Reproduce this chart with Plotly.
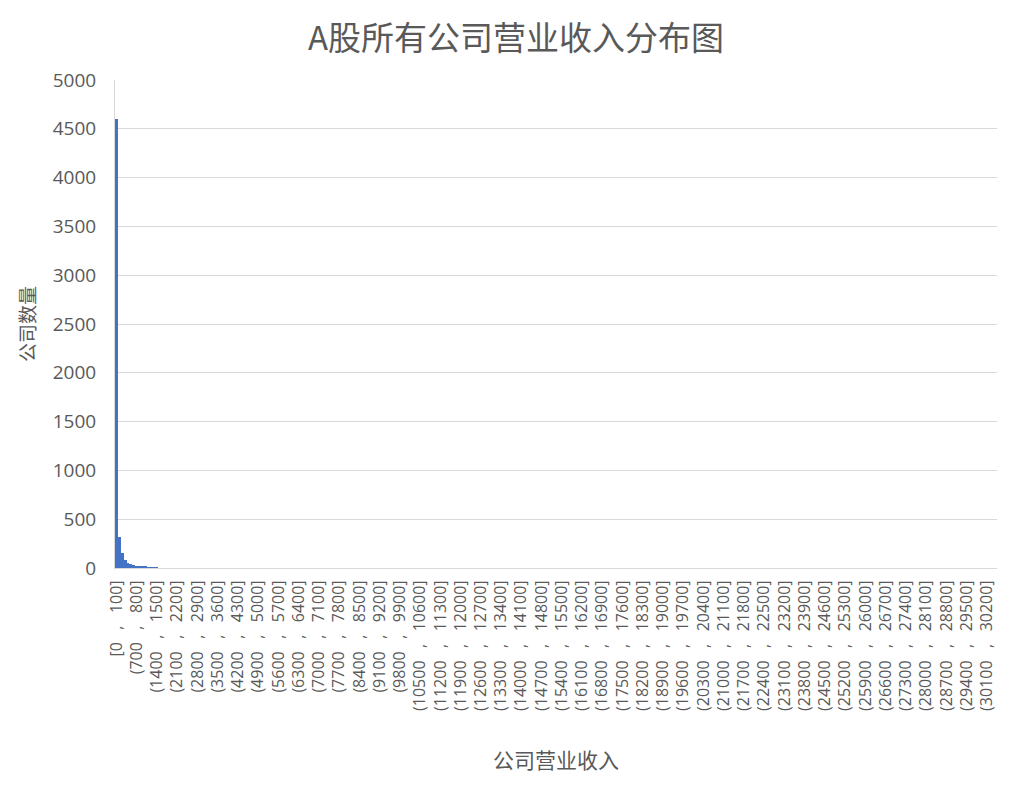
import plotly.graph_objects as go

# Bin settings (revenue, in 亿元), width 100
bin_width = 100
counts = [
    4600, 322, 152, 78, 48, 40, 33, 24, 18, 15, 12, 9, 6, 4, 3, 0, 0, 0, 0, 0,
    0, 0, 0, 0, 0, 0, 0, 0, 0, 0, 0, 0, 0, 0, 0, 0, 0, 0, 0, 0,
    0, 0, 0, 0, 0, 0, 0, 0, 0, 0, 0, 0, 0, 0, 0, 0, 0, 0, 0, 0,
    0, 0, 0, 0, 0, 0, 0, 0, 0, 0, 0, 0, 0, 0, 0, 0, 0, 0, 0, 0,
    0, 0, 0, 0, 0, 0, 0, 0, 0, 0, 0, 0, 0, 0, 0, 0, 0, 0, 0, 0,
    0, 0, 0, 0, 0, 0, 0, 0, 0, 0, 0, 0, 0, 0, 0, 0, 0, 0, 0, 0,
    0, 0, 0, 0, 0, 0, 0, 0, 0, 0, 0, 0, 0, 0, 0, 0, 0, 0, 0, 0,
    0, 0, 0, 0, 0, 0, 0, 0, 0, 0, 0, 0, 0, 0, 0, 0, 0, 0, 0, 0,
    0, 0, 0, 0, 0, 0, 0, 0, 0, 0, 0, 0, 0, 0, 0, 0, 0, 0, 0, 0,
    0, 0, 0, 0, 0, 0, 0, 0, 0, 0, 0, 0, 0, 0, 0, 0, 0, 0, 0, 0,
    0, 0, 0, 0, 0, 0, 0, 0, 0, 0, 0, 0, 0, 0, 0, 0, 0, 0, 0, 0,
    0, 0, 0, 0, 0, 0, 0, 0, 0, 0, 0, 0, 0, 0, 0, 0, 0, 0, 0, 0,
    0, 0, 0, 0, 0, 0, 0, 0, 0, 0, 0, 0, 0, 0, 0, 0, 0, 0, 0, 0,
    0, 0, 0, 0, 0, 0, 0, 0, 0, 0, 0, 0, 0, 0, 0, 0, 0, 0, 0, 0,
    0, 0, 0, 0, 0, 0, 0, 0, 0, 0, 0, 0, 0, 0, 0, 0, 0, 0, 0, 0,
    0, 0, 0, 0, 0,
]

# Category labels for each bin (wide spaces around the comma, as in the source)
sep = "\u00a0\u00a0\u00a0,\u00a0\u00a0\u00a0"
categories = [f"[0{sep}100]"] + [
    f"({i * bin_width}{sep}{(i + 1) * bin_width}]" for i in range(1, len(counts))
]
tick_labels = categories[::7]

title_text = "A股所有公司营业收入分布图"
x_title = "公司营业收入"
y_title = "公司数量"

text_color = "#595959"
grid_color = "#d9d9d9"
bar_color = "#4472C4"
cjk_font = "Noto Sans CJK SC"
num_font = "Open Sans"

fig = go.Figure(
    go.Bar(
        x=categories,
        y=counts,
        marker=dict(color=bar_color, line=dict(width=0)),
    )
)

fig.update_layout(
    width=1016,
    height=777,
    paper_bgcolor="white",
    plot_bgcolor="white",
    bargap=0,
    showlegend=False,
    font=dict(family=cjk_font, color=text_color),
    margin=dict(l=107, r=27, t=72, b=217, autoexpand=False),
    title=dict(
        text=title_text,
        x=0.5,
        xanchor="center",
        y=1 - 30 / 777,
        yanchor="middle",
        font=dict(size=33, color=text_color, family=cjk_font),
    ),
)

fig.update_xaxes(
    type="category",
    tickmode="array",
    tickvals=tick_labels,
    ticktext=tick_labels,
    tickangle=-90,
    tickfont=dict(size=16, color=text_color, family=num_font),
    ticklabelstandoff=5,
    showline=True,
    linecolor=grid_color,
    linewidth=1,
    ticks="",
    showgrid=False,
    title=dict(text=x_title, font=dict(size=21, color=text_color, family=cjk_font), standoff=43),
)

fig.update_yaxes(
    range=[0, 5000],
    tickmode="linear",
    tick0=0,
    dtick=500,
    tickfont=dict(size=19, color=text_color, family=num_font),
    showgrid=True,
    gridcolor=grid_color,
    gridwidth=1,
    showline=True,
    linecolor=grid_color,
    zeroline=False,
    ticks="",
    ticklabelstandoff=14,
    title=dict(text=y_title, font=dict(size=19, color=text_color, family=cjk_font), standoff=12),
)

fig.write_html("out.html")
